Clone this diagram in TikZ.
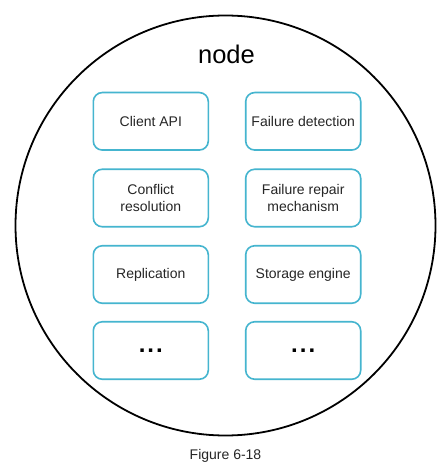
\documentclass[tikz,border=0pt]{standalone}
\usepackage{fontspec}
\setmainfont{Liberation Sans}
\begin{document}
\begin{tikzpicture}[x=1pt,y=-1pt,
  comp/.style={draw=boxblue, line width=1.6pt, rounded corners=9pt, minimum width=115pt, minimum height=57.5pt, inner sep=0pt, align=center, text=textgray, font=\fontsize{14}{16.5}\selectfont},
  dots/.style={comp, text=black, font=\fontsize{24}{24}\selectfont\bfseries},
  ring/.style={draw=black, line width=1.8pt}]
\definecolor{boxblue}{HTML}{45B5CF}
\definecolor{textgray}{HTML}{262626}
\useasboundingbox (0,0) rectangle (446,470);
\fill[white] (0,0) rectangle (446,470);
\node[ring, circle, minimum size=420pt, inner sep=0pt] (outer) at (225.5,225.5) {};
\node[text=black, font=\fontsize{25.5}{27}\selectfont] (title) at (226.5,54) {node};
\node[comp] (api) at (150.8,121.3) {Client API};
\node[comp] (fd) at (303.2,121.3) {Failure detection};
\node[comp] (cr) at (150.8,198) {Conflict\\resolution};
\node[comp] (fr) at (303.2,198) {Failure repair\\mechanism};
\node[comp] (rep) at (150.8,274.5) {Replication};
\node[comp] (se) at (303.2,274.5) {Storage engine};
\node[dots] (m1) at (150.8,350.5) {.\hspace{2pt}.\hspace{2pt}.};
\node[dots] (m2) at (303.2,350.5) {.\hspace{2pt}.\hspace{2pt}.};
\node[text=textgray, font=\fontsize{14}{16}\selectfont] (cap) at (225.5,456) {Figure 6-18};
\end{tikzpicture}
\end{document}
